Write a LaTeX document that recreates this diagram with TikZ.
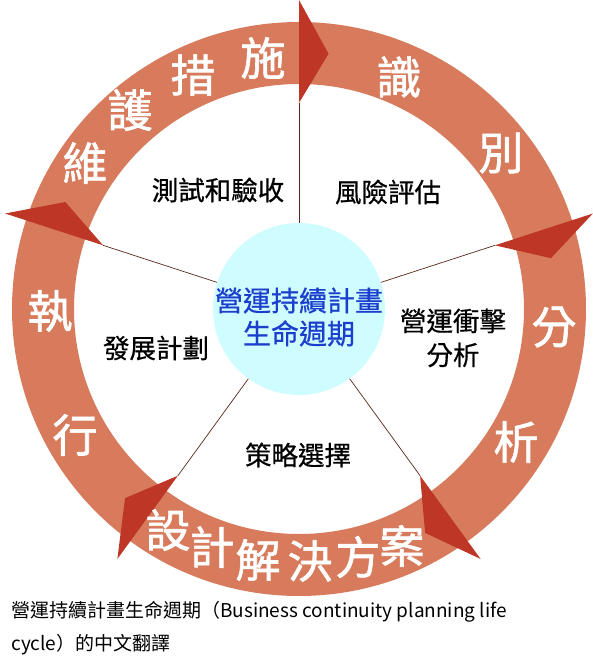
\documentclass[tikz,border=0pt]{standalone}
\usepackage{fontspec}
\usetikzlibrary{calc}
\newfontfamily\cjk{Noto Sans CJK TC}
\newfontfamily\cjkm[FakeBold=0.6]{Noto Sans CJK TC}
\newfontfamily\cjkr[FakeBold=1.4]{Noto Sans CJK TC}
\definecolor{ringcol}{RGB}{215,123,92}
\definecolor{tricol}{RGB}{190,54,37}
\definecolor{spokecol}{RGB}{85,40,25}
\definecolor{hubcol}{RGB}{206,252,255}
\definecolor{hubtext}{RGB}{28,62,205}
\tikzset{
  ringchar/.style={text=white,font=\cjkr\fontsize{45}{45}\selectfont,inner sep=0pt},
  phase/.style={text=black,font=\cjkm\fontsize{26.5}{34}\selectfont,inner sep=0pt,align=center},
  pointer/.style={fill=tricol,draw=none},
  spoke/.style={draw=spokecol,line width=0.7pt},
  caption/.style={text=black,font=\cjk\fontsize{19}{33}\selectfont,inner sep=0pt,anchor=west}
}
\begin{document}
\begin{tikzpicture}[x=1pt,y=1pt]
\useasboundingbox (0,0) rectangle (592,667);
\coordinate (C) at (299,358);
% ring
\fill[ringcol,even odd rule] (C) circle (287) (C) circle (225);
% hub
\node[circle,fill=hubcol,minimum size=172pt,inner sep=0pt] (hub) at (C) {};
% spokes and pointers
\foreach \a/\n in {90/p1,18/p2,-54/p3,-126/p4,162/p5}{
  \coordinate (\n) at ($(C)+(\a:206)$);
  \coordinate (\n o) at ($(C)+(\a:309)$);
  \coordinate (\n t) at ($(C)+(\a-6.6:257)$);
  \draw[spoke] (hub.\a) -- (\n);
  \fill[pointer] (\n) -- (\n o) -- (\n t) -- cycle;
}
% hub text
\node[text=hubtext,font=\cjkm\fontsize{28}{33}\selectfont,align=center,inner sep=0pt] (hubt) at (299,350) {營運持續計畫\\生命週期};
% phase labels
\node[phase] (ph1) at (218,477) {測試和驗收};
\node[phase] (ph2) at (388,475) {風險評估};
\node[phase] (ph3) at (453,329) {營運衝擊\\分析};
\node[phase] (ph4) at (298,212) {策略選擇};
\node[phase] (ph5) at (156,319) {發展計劃};
% ring characters
\node[ringchar] (r1) at (399,590) {識};
\node[ringchar] (r2) at (501,514) {別};
\node[ringchar] (r3) at (554,340) {分};
\node[ringchar] (r4) at (516,225) {析};
\node[ringchar] (r5) at (168,137) {設};
\node[ringchar] (r6) at (212,120) {計};
\node[ringchar] (r7) at (258,107) {解};
\node[ringchar] (r8) at (310,106) {決};
\node[ringchar] (r9) at (358,110) {方};
\node[ringchar] (r10) at (402,121) {案};
\node[ringchar] (r11) at (75,232) {行};
\node[ringchar] (r12) at (50,356) {執};
\node[ringchar] (r13) at (85,504) {維};
\node[ringchar] (r14) at (130,557) {護};
\node[ringchar] (r15) at (193,592) {措};
\node[ringchar] (r16) at (263,609) {施};
% caption
\node[caption] (cap1) at (11,55) {營運持續計畫生命週期（Business continuity planning life};
\node[caption] (cap2) at (11,22) {cycle）的中文翻譯};
\end{tikzpicture}
\end{document}
